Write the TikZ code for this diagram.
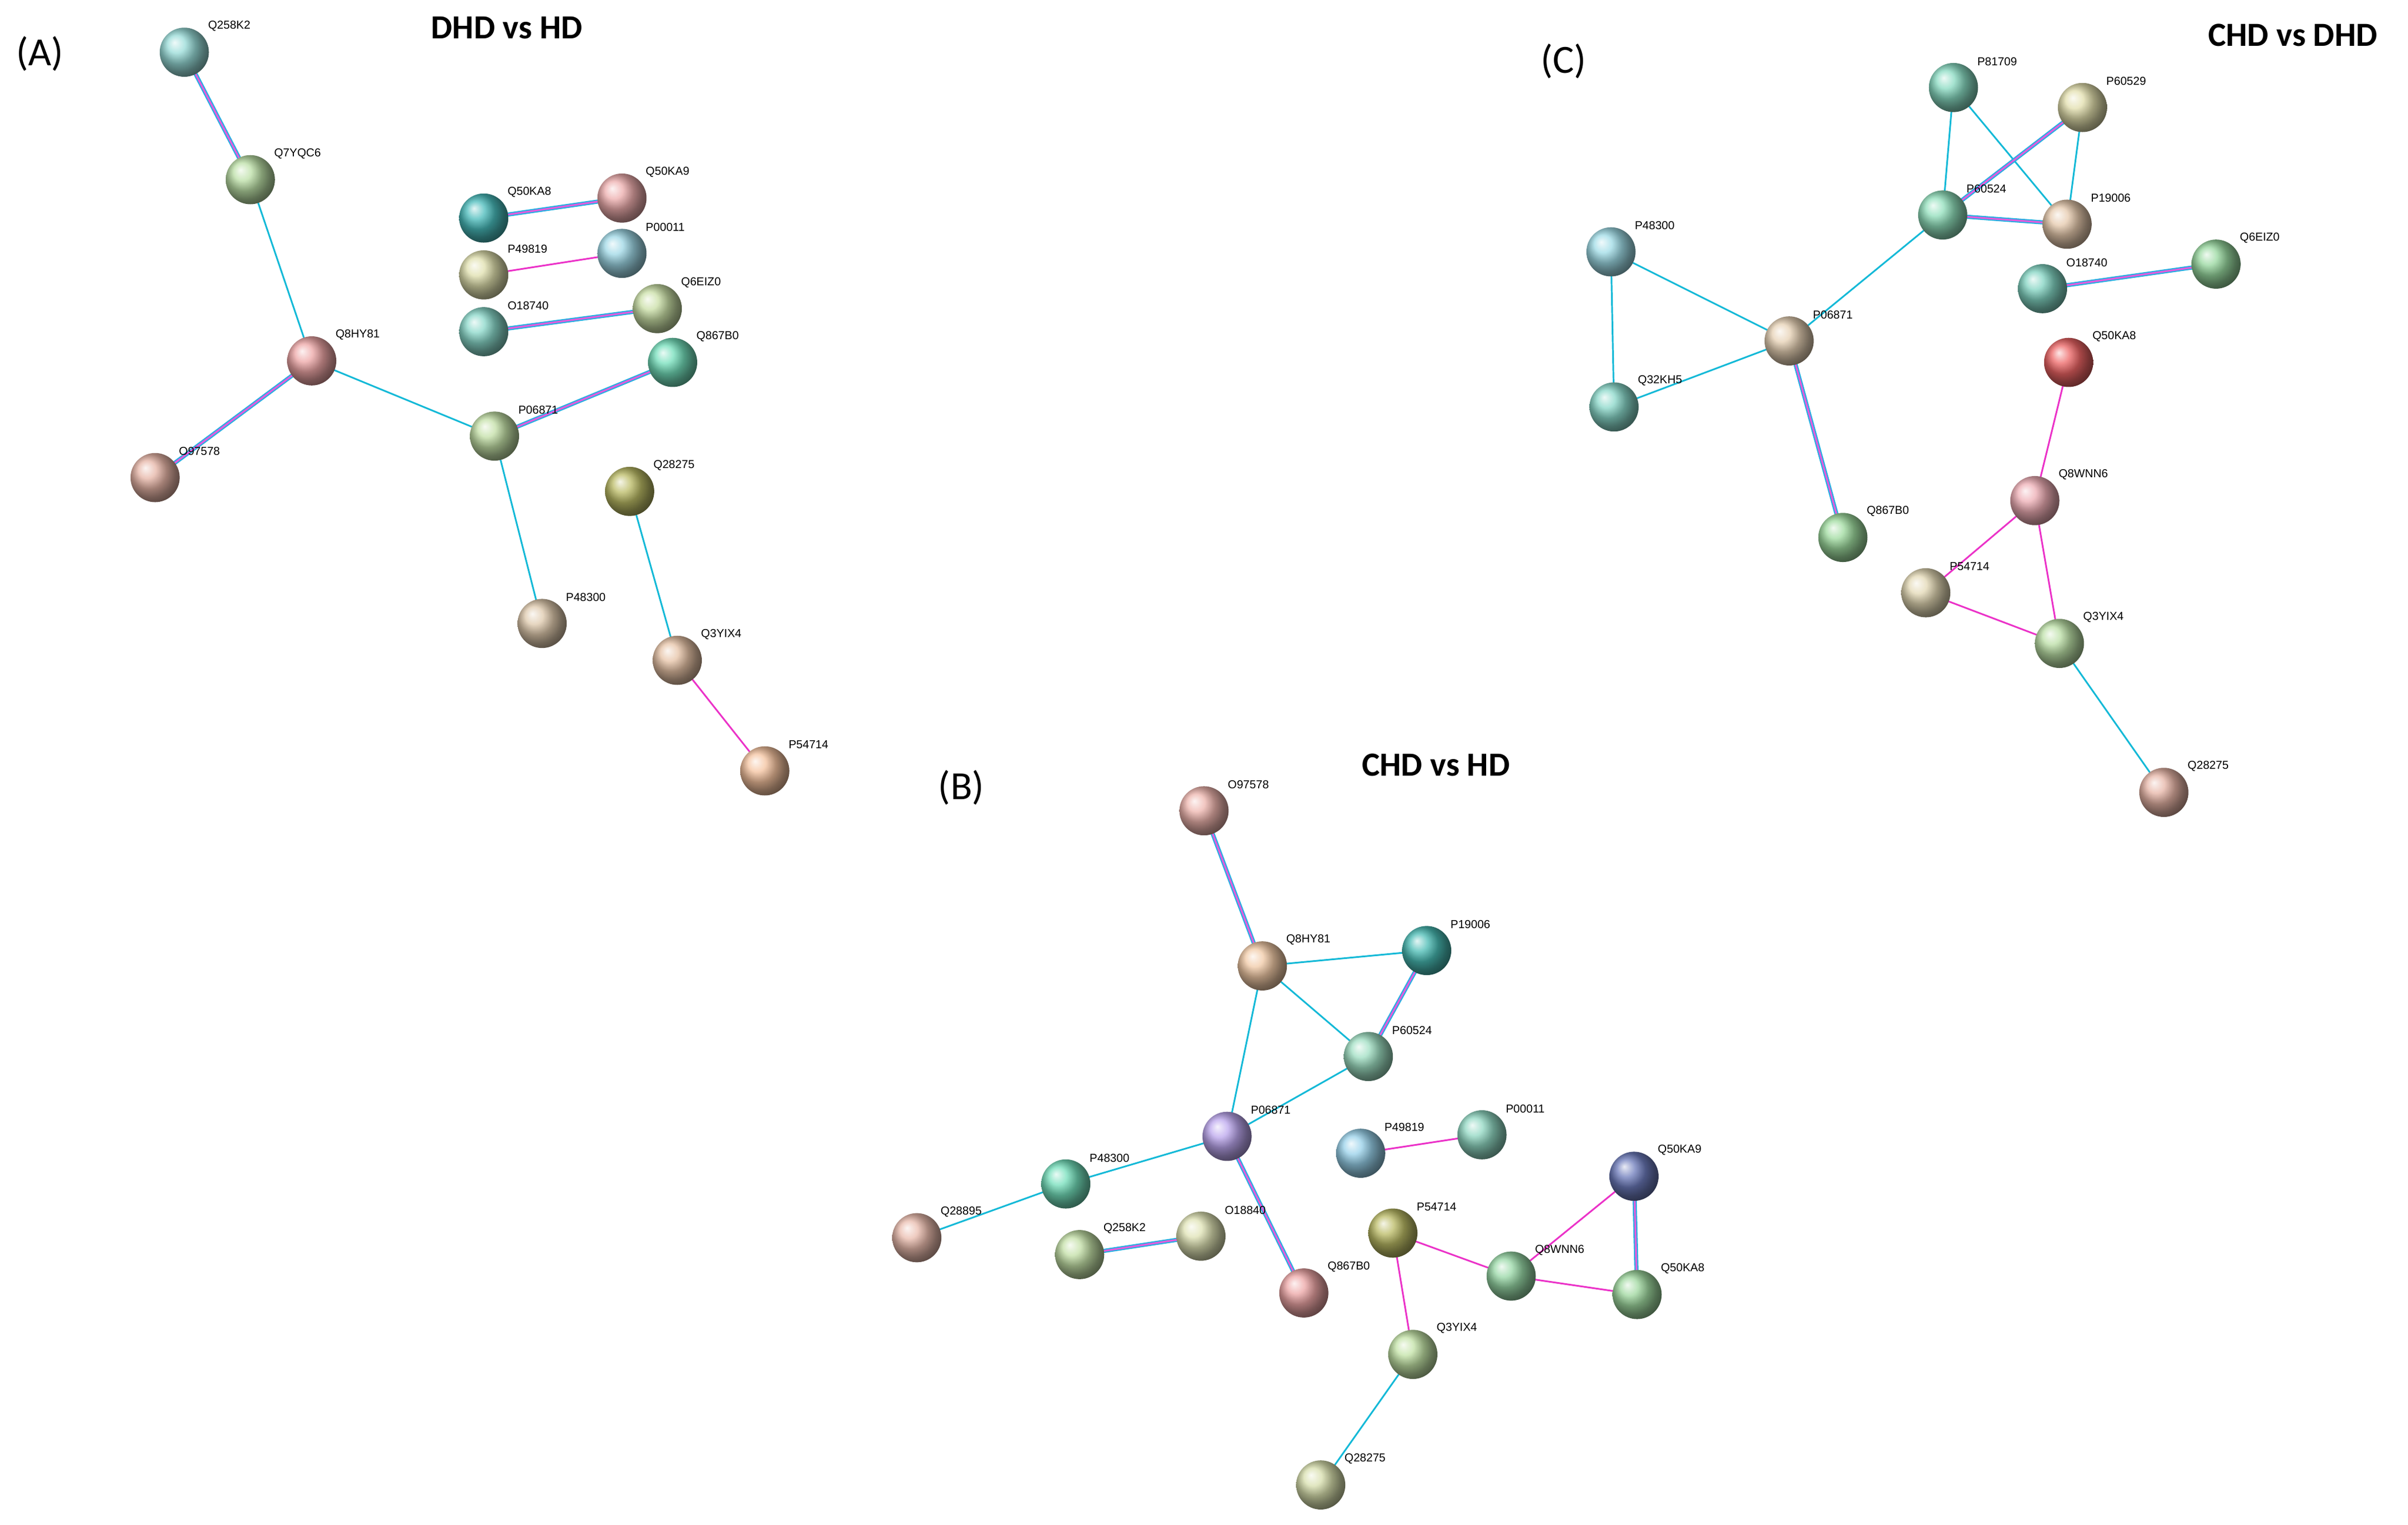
\documentclass[tikz,border=0pt]{standalone}
\usepackage{fontspec}
\setmainfont{Liberation Sans}
\newfontfamily\carl{Carlito}
\begin{document}
\begin{tikzpicture}[x=1pt,y=-1pt,
  p/.style={circle,minimum size=32pt,inner sep=0pt,shading=ball,ball color=#1!72!white},
  cy/.style={draw={rgb,255:red,20;green,185;blue,215},line width=1.1pt},
  mg/.style={draw={rgb,255:red,235;green,50;blue,200},line width=1.1pt},
  mu/.style={draw={rgb,255:red,40;green,175;blue,225},line width=0.8pt,double={rgb,255:red,230;green,90;blue,220},double distance=1.1pt},
  lb/.style={font=\fontsize{7.5}{8}\selectfont,anchor=west},
  tt/.style={font=\carl\bfseries\fontsize{22}{24}\selectfont},
  pl/.style={font=\carl\fontsize{26}{28}\selectfont}]
\useasboundingbox (0,0) rectangle (1568,993);
\foreach \n/\x/\y/\r/\g/\b in {
 aQ258K2/120/34/110/205/200, aQ7YQC6/163/117/160/210/130, aQ8HY81/203/235/230/130/130,
 aO97578/101/311/220/150/130, aP06871/322/284/170/210/130, aQ867B0/438/236/60/210/160,
 aQ50KA8/315/142/0/160/160, aQ50KA9/405/129/230/140/140, aP00011/405/165/120/200/220,
 aP49819/315/179/210/210/140, aO18740/315/216/90/200/180, aQ6EIZ0/428/201/180/210/130,
 aQ28275/410/320/160/160/40, aP48300/353/406/210/180/140, aQ3YIX4/441/430/220/170/130,
 aP54714/498/502/240/170/120,
 bO97578/784/528/230/150/140, bQ8HY81/822/629/235/180/130, bP19006/929/619/0/160/150,
 bP60524/891/688/120/210/170, bP06871/799/740/160/130/230, bP48300/694/771/60/210/160,
 bQ28895/597/806/225/160/140, bQ258K2/703/817/170/210/130, bO18840/782/805/210/215/150,
 bQ867B0/849/842/230/130/130, bP49819/886/751/110/190/225, bP00011/965/739/100/200/170,
 bQ50KA9/1064/766/50/70/160, bP54714/907/803/160/160/40, bQ8WNN6/984/831/110/200/130,
 bQ50KA8/1066/843/120/200/120, bQ3YIX4/920/882/170/215/130, bQ28275/860/967/200/210/140,
 cP81709/1272/57/90/205/170, cP60529/1356/70/215/210/140, cP60524/1265/140/100/210/160,
 cP19006/1346/146/220/180/140, cP48300/1049/164/120/205/220, cP06871/1165/222/220/190/150,
 cQ32KH5/1051/265/90/200/180, cO18740/1330/188/80/195/170, cQ6EIZ0/1443/172/110/200/120,
 cQ50KA8/1347/236/230/40/40, cQ8WNN6/1325/326/230/140/150, cP54714/1254/386/215/200/150,
 cQ3YIX4/1341/419/160/210/130, cQ867B0/1200/350/120/205/120, cQ28275/1409/516/220/150/130}
 {\xglobal\definecolor{c\n}{RGB}{\r,\g,\b}
  \coordinate (\n) at (\x,\y);}
% edges A
\draw[mu] (aQ258K2)--(aQ7YQC6);
\draw[cy] (aQ7YQC6)--(aQ8HY81);
\draw[mu] (aQ8HY81)--(aO97578);
\draw[cy] (aQ8HY81)--(aP06871);
\draw[mu] (aP06871)--(aQ867B0);
\draw[cy] (aP06871)--(aP48300);
\draw[mu] (aQ50KA8)--(aQ50KA9);
\draw[mg] (aP49819)--(aP00011);
\draw[mu] (aO18740)--(aQ6EIZ0);
\draw[cy] (aQ28275)--(aQ3YIX4);
\draw[mg] (aQ3YIX4)--(aP54714);
% edges B
\draw[mu] (bO97578)--(bQ8HY81);
\draw[cy] (bQ8HY81)--(bP19006);
\draw[cy] (bQ8HY81)--(bP60524);
\draw[mu] (bP19006)--(bP60524);
\draw[cy] (bQ8HY81)--(bP06871);
\draw[cy] (bP60524)--(bP06871);
\draw[cy] (bP06871)--(bP48300);
\draw[cy] (bP48300)--(bQ28895);
\draw[mu] (bP06871)--(bQ867B0);
\draw[mu] (bQ258K2)--(bO18840);
\draw[mg] (bP49819)--(bP00011);
\draw[mg] (bQ50KA9)--(bQ8WNN6);
\draw[mu] (bQ50KA9)--(bQ50KA8);
\draw[mg] (bP54714)--(bQ8WNN6);
\draw[mg] (bQ8WNN6)--(bQ50KA8);
\draw[mg] (bP54714)--(bQ3YIX4);
\draw[cy] (bQ3YIX4)--(bQ28275);
% edges C
\draw[cy] (cP81709)--(cP60524);
\draw[cy] (cP81709)--(cP19006);
\draw[mu] (cP60529)--(cP60524);
\draw[cy] (cP60529)--(cP19006);
\draw[mu] (cP60524)--(cP19006);
\draw[cy] (cP60524)--(cP06871);
\draw[cy] (cP48300)--(cP06871);
\draw[cy] (cP48300)--(cQ32KH5);
\draw[cy] (cQ32KH5)--(cP06871);
\draw[mu] (cP06871)--(cQ867B0);
\draw[mu] (cO18740)--(cQ6EIZ0);
\draw[mg] (cQ50KA8)--(cQ8WNN6);
\draw[mg] (cQ8WNN6)--(cP54714);
\draw[mg] (cQ8WNN6)--(cQ3YIX4);
\draw[mg] (cP54714)--(cQ3YIX4);
\draw[cy] (cQ3YIX4)--(cQ28275);
% balls and labels
\foreach \n/\t in {aQ258K2/Q258K2,aQ7YQC6/Q7YQC6,aQ8HY81/Q8HY81,aO97578/O97578,aP06871/P06871,
 aQ867B0/Q867B0,aQ50KA8/Q50KA8,aQ50KA9/Q50KA9,aP00011/P00011,aP49819/P49819,aO18740/O18740,
 aQ6EIZ0/Q6EIZ0,aQ28275/Q28275,aP48300/P48300,aQ3YIX4/Q3YIX4,aP54714/P54714,
 bO97578/O97578,bQ8HY81/Q8HY81,bP19006/P19006,bP60524/P60524,bP06871/P06871,bP48300/P48300,
 bQ28895/Q28895,bQ258K2/Q258K2,bO18840/O18840,bQ867B0/Q867B0,bP49819/P49819,bP00011/P00011,
 bQ50KA9/Q50KA9,bP54714/P54714,bQ8WNN6/Q8WNN6,bQ50KA8/Q50KA8,bQ3YIX4/Q3YIX4,bQ28275/Q28275,
 cP81709/P81709,cP60529/P60529,cP60524/P60524,cP19006/P19006,cP48300/P48300,cP06871/P06871,
 cQ32KH5/Q32KH5,cO18740/O18740,cQ6EIZ0/Q6EIZ0,cQ50KA8/Q50KA8,cQ8WNN6/Q8WNN6,cP54714/P54714,
 cQ3YIX4/Q3YIX4,cQ867B0/Q867B0,cQ28275/Q28275}
 {\node[p=c\n] (n\n) at (\n) {};
  \node[lb] (l\n) at ([xshift=12pt,yshift=17pt]\n) {\t};}
\node[pl] (tA) at (26,35) {(A)};
\node[tt] (hA) at (330,18) {DHD vs HD};
\node[pl] (tB) at (626,513) {(B)};
\node[tt] (hB) at (935,498) {CHD vs HD};
\node[pl] (tC) at (1018,40) {(C)};
\node[tt] (hC) at (1493,23) {CHD vs DHD};
\end{tikzpicture}
\end{document}
